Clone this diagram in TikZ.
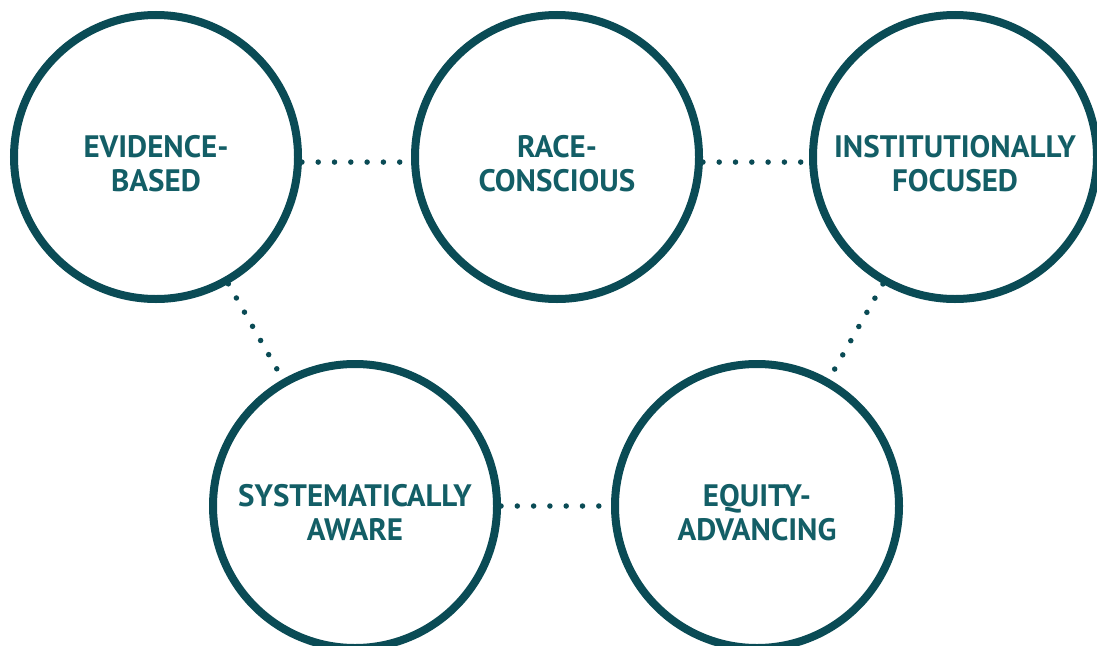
\documentclass[tikz,border=0pt]{standalone}
\usepackage{fontspec}
\setmainfont{PT Sans}
\usepackage{tikz}
\definecolor{ringteal}{HTML}{0A4B55}
\definecolor{textteal}{HTML}{135E66}
\tikzset{
  ring/.style={circle,draw=ringteal,line width=8pt,minimum size=284pt,inner sep=0pt},
  caption/.style={text=textteal,font=\bfseries\fontsize{31}{34}\selectfont,align=center,inner sep=0pt},
  dots/.style={draw=ringteal,line width=5.5pt,line cap=round,dash pattern=on 0pt off 16.3pt}
}

\begin{document}
\begin{tikzpicture}[x=1pt,y=-1pt]
 \useasboundingbox (0,0) rectangle (1097,645);
  \draw (156,157) node[ring] (evidence) {};
  \draw (557,157) node[ring] (race) {};
  \draw (955,157) node[ring] (institution) {};
   \draw (355,506) node[ring] (system) {};
   \draw (757,506) node[ring] (equity) {};

  \draw (156,164) node[caption] (evidence-txt) {EVIDENCE-\\BASED};
  \draw (557,164) node[caption] (race-txt) {RACE-\\CONSCIOUS};
  \draw (955,164) node[caption] (institution-txt) {INSTITUTIONALLY\\FOCUSED};
   \draw (355,513) node[caption] (system-txt) {SYSTEMATICALLY\\AWARE};
   \draw (757,513) node[caption] (equity-txt) {EQUITY-\\ADVANCING};

     \path[dots] (evidence.-2.4) edge (race.182.4);
     \path[dots] (race.-2.4) edge (institution.182.4);
     \path[dots] (evidence) edge (system);
     \path[dots] (institution) edge (equity);
     \path[dots] (system) edge (equity);
\end{tikzpicture}
\end{document}
